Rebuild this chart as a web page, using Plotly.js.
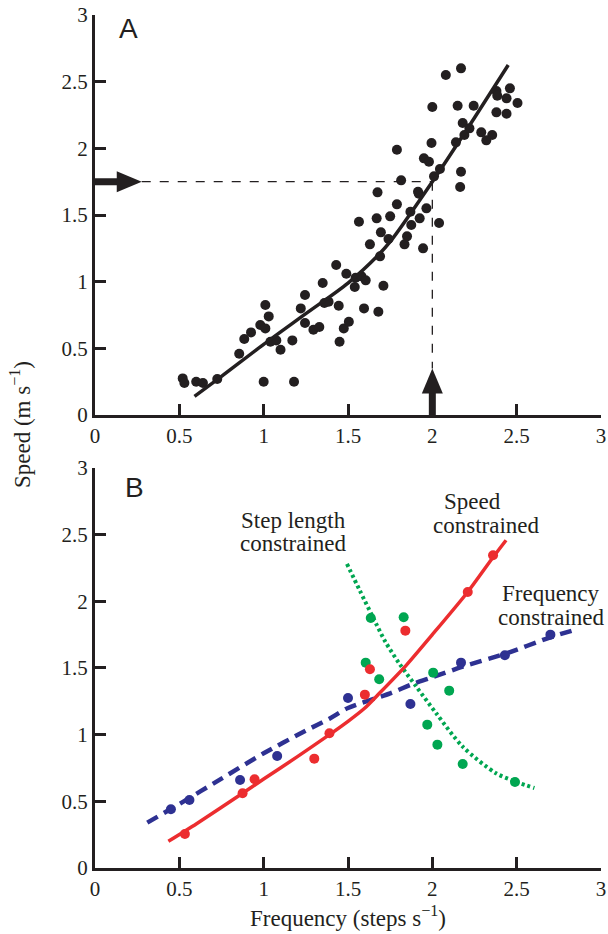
<!DOCTYPE html>
<html>
<head>
<meta charset="utf-8">
<script src="https://cdn.plot.ly/plotly-3.0.1.min.js"></script>
<style>html,body{margin:0;padding:0;background:#fff;}</style>
</head>
<body>
<div id="chart" style="width:608px;height:934px;"></div>
<script>
// ---------- Panel A: measured stride frequency vs speed ----------
var aFreq = [0.52,0.53,0.60,0.64,0.725,0.855,0.885,0.925,0.98,1.01,1.01,1.03,1.00,1.18,1.04,1.075,1.10,1.17,
  1.245,1.22,1.245,1.295,1.33,1.35,1.36,1.385,1.445,1.45,1.475,1.505,1.43,1.49,1.54,1.545,1.58,1.605,1.595,1.68,
  1.71,1.69,1.63,1.565,1.67,1.695,1.74,1.75,1.79,1.675,1.835,1.85,1.875,1.87,1.925,1.945,1.92,1.965,1.815,1.79,
  1.995,1.95,1.98,2.01,2.04,2.08,2.17,2.0,2.15,2.245,2.38,2.46,2.44,2.505,2.385,2.38,2.44,2.18,2.19,2.22,2.29,
  2.355,2.32,2.14,2.045,2.17,2.165,1.915];
var aSpeed = [0.275,0.24,0.25,0.24,0.27,0.46,0.57,0.62,0.675,0.65,0.825,0.74,0.25,0.25,0.55,0.56,0.49,0.56,
  0.90,0.80,0.69,0.64,0.66,0.99,0.84,0.85,0.82,0.55,0.65,0.70,1.125,1.06,0.96,1.03,1.04,1.01,0.80,0.775,
  0.97,1.19,1.28,1.45,1.475,1.37,1.32,1.49,1.58,1.67,1.28,1.34,1.425,1.525,1.475,1.25,1.66,1.55,1.76,1.99,
  2.04,1.925,1.90,1.79,1.44,2.55,2.60,2.31,2.32,2.32,2.43,2.45,2.375,2.34,2.395,2.27,2.26,2.19,2.10,2.15,2.12,
  2.10,2.06,2.045,1.845,1.825,1.71,1.675];
var aFitFreq  = [0.59,0.75,1.0,1.25,1.5,1.68,1.75,2.0,2.25,2.45];
var aFitSpeed = [0.14,0.29,0.53,0.76,0.99,1.20,1.30,1.75,2.23,2.625];
var aTargetFreq = 2.0, aTargetSpeed = 1.75;
var arrowTipFreq = 0.277, arrowTipSpeed = 0.35;

// ---------- Panel B: constrained conditions ----------
var speedConFreq  = [0.533,0.875,0.946,1.30,1.39,1.60,1.63,1.84,2.21,2.36];
var speedConSpeed = [0.255,0.56,0.665,0.82,1.01,1.30,1.49,1.78,2.07,2.345];
var speedFitFreq  = [0.435,0.6,0.875,1.0,1.2,1.39,1.5,1.6,1.686,1.845,2.0,2.21,2.36,2.437];
var speedFitSpeed = [0.20,0.33,0.56,0.667,0.835,1.0,1.1,1.2,1.31,1.52,1.75,2.07,2.33,2.458];

var freqConFreq  = [0.45,0.56,0.86,1.08,1.50,1.87,2.17,2.43,2.70];
var freqConSpeed = [0.44,0.51,0.66,0.84,1.275,1.23,1.54,1.595,1.75];
var freqFitFreq  = [0.31,0.5,0.75,1.0,1.25,1.39,1.5,1.75,1.885,2.0,2.18,2.44,2.7,2.855];
var freqFitSpeed = [0.34,0.48,0.67,0.86,1.03,1.12,1.2,1.31,1.38,1.43,1.51,1.61,1.73,1.79];

var stepConFreq  = [1.635,1.83,1.605,1.685,2.005,2.10,1.97,2.03,2.18,2.49];
var stepConSpeed = [1.875,1.88,1.54,1.415,1.465,1.33,1.075,0.925,0.78,0.645];
var stepFitFreq  = [1.494,1.57,1.648,1.72,1.806,1.905,2.023,2.18,2.378,2.5,2.605];
var stepFitSpeed = [2.28,2.08,1.88,1.70,1.53,1.36,1.16,0.91,0.71,0.645,0.60];

var tickVals = [0,0.5,1,1.5,2,2.5,3];
var tickText = ['0','0.5','1','1.5','2','2.5','3'];

var RED = '#ec2d2f', BLUE = '#2e3192', GREEN = '#00a651', INK = '#231f20';
var SERIF = 'Liberation Serif';

var traces = [
  {x:aFreq, y:aSpeed, type:'scatter', mode:'markers', xaxis:'x', yaxis:'y',
   marker:{color:INK, size:10}},
  {x:aFitFreq, y:aFitSpeed, type:'scatter', mode:'lines', xaxis:'x', yaxis:'y',
   line:{color:INK, width:3.5, shape:'spline', smoothing:0.8}},

  {x:freqFitFreq, y:freqFitSpeed, type:'scatter', mode:'lines', xaxis:'x2', yaxis:'y2',
   line:{color:BLUE, width:4.5, dash:'12px,7px', shape:'spline', smoothing:0.8}},
  {x:stepFitFreq, y:stepFitSpeed, type:'scatter', mode:'lines', xaxis:'x2', yaxis:'y2',
   line:{color:GREEN, width:4, dash:'3px,3px', shape:'spline', smoothing:0.8}},
  {x:speedFitFreq, y:speedFitSpeed, type:'scatter', mode:'lines', xaxis:'x2', yaxis:'y2',
   line:{color:RED, width:3.5, shape:'spline', smoothing:0.6}},
  {x:freqConFreq, y:freqConSpeed, type:'scatter', mode:'markers', xaxis:'x2', yaxis:'y2',
   marker:{color:BLUE, size:10}},
  {x:stepConFreq, y:stepConSpeed, type:'scatter', mode:'markers', xaxis:'x2', yaxis:'y2',
   marker:{color:GREEN, size:10}},
  {x:speedConFreq, y:speedConSpeed, type:'scatter', mode:'markers', xaxis:'x2', yaxis:'y2',
   marker:{color:RED, size:10}}
];

function axis(extra){
  var a = {range:[0,3], tickvals:tickVals, ticktext:tickText, showline:true, linewidth:3, linecolor:INK,
    ticks:'inside', ticklen:11, tickwidth:3, tickcolor:INK, showgrid:false, zeroline:false,
    tickfont:{family:SERIF, size:21, color:INK}, fixedrange:true};
  for (var k in extra) a[k] = extra[k];
  return a;
}

function label(xr, yr, x, y, t){
  return {xref:xr, yref:yr, x:x, y:y, text:t, showarrow:false,
    font:{family:SERIF, size:23, color:INK}, xanchor:'center', yanchor:'middle'};
}

var layout = {
  width:608, height:934, showlegend:false,
  paper_bgcolor:'#fff', plot_bgcolor:'#fff',
  margin:{l:95, r:7, t:15, b:66},
  xaxis: axis({anchor:'y', domain:[0,1]}),
  yaxis: axis({anchor:'x', domain:[0.531,1]}),
  xaxis2: axis({anchor:'y2', domain:[0,1],
    title:{text:'Frequency (steps s<sup>\u22121</sup>)', font:{family:SERIF, size:23, color:INK}, standoff:10}}),
  yaxis2: axis({anchor:'x2', domain:[0,0.469]}),
  shapes:[
    // dashed guide lines
    {type:'line', xref:'x', yref:'y', x0:arrowTipFreq, x1:aTargetFreq, y0:aTargetSpeed, y1:aTargetSpeed,
     line:{color:INK, width:1.3, dash:'dash'}},
    {type:'line', xref:'x', yref:'y', x0:aTargetFreq, x1:aTargetFreq, y0:aTargetSpeed, y1:arrowTipSpeed,
     line:{color:INK, width:1.3, dash:'dash'}},
    // horizontal arrow (shaft + head)
    {type:'line', xref:'x', yref:'y', x0:0, x1:arrowTipFreq - 0.08, y0:aTargetSpeed, y1:aTargetSpeed,
     line:{color:INK, width:7}},
    {type:'path', xref:'x', yref:'y', xsizemode:'pixel', ysizemode:'pixel',
     xanchor:arrowTipFreq, yanchor:aTargetSpeed, path:'M0,0 L-25,10.5 L-25,-10.5 Z',
     fillcolor:INK, line:{width:0}},
    // vertical arrow (shaft + head)
    {type:'line', xref:'x', yref:'y', x0:aTargetFreq, x1:aTargetFreq, y0:0, y1:arrowTipSpeed - 0.1,
     line:{color:INK, width:7}},
    {type:'path', xref:'x', yref:'y', xsizemode:'pixel', ysizemode:'pixel',
     xanchor:aTargetFreq, yanchor:arrowTipSpeed, path:'M0,0 L-10.5,-25 L10.5,-25 Z',
     fillcolor:INK, line:{width:0}}
  ],
  annotations:[
    {xref:'paper', yref:'paper', x:(128-95)/506, y:1-(28-15)/853, text:'A', showarrow:false,
     font:{family:'Liberation Sans', size:28, color:INK}, xanchor:'center', yanchor:'middle'},
    {xref:'paper', yref:'paper', x:(134-95)/506, y:1-(487-15)/853, text:'B', showarrow:false,
     font:{family:'Liberation Sans', size:28, color:INK}, xanchor:'center', yanchor:'middle'},
    {xref:'paper', yref:'paper', x:(20-95)/506, y:1-(425-15)/853, text:'Speed (m s<sup>\u22121</sup>)',
     textangle:-90, showarrow:false, font:{family:SERIF, size:23, color:INK},
     xanchor:'center', yanchor:'middle'},
    label('x2','y2', 1.179, 2.608, 'Step length'),
    label('x2','y2', 1.175, 2.436, 'constrained'),
    label('x2','y2', 2.238, 2.746, 'Speed'),
    label('x2','y2', 2.32, 2.571, 'constrained'),
    label('x2','y2', 2.705, 2.061, 'Frequency'),
    label('x2','y2', 2.705, 1.881, 'constrained')
  ]
};

Plotly.newPlot('chart', traces, layout, {staticPlot:true, displayModeBar:false});
</script>
</body>
</html>
